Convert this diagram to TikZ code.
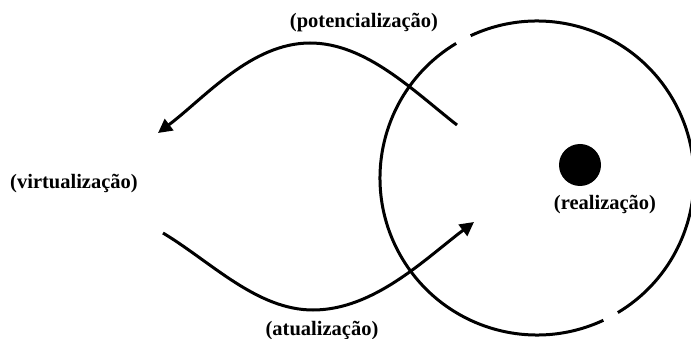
\documentclass[tikz,border=0pt]{standalone}
\usepackage{fontspec}
\setmainfont{Liberation Serif}
\usetikzlibrary{arrows.meta}
\begin{document}
\begin{tikzpicture}[x=1pt,y=1pt,
  lbl/.style={font=\fontsize{20.5}{21}\selectfont\bfseries, inner sep=0pt, text=black},
  ln/.style={line width=3pt, black},
  arr/.style={ln, -{Triangle[length=14pt,width=14pt]}}]
\useasboundingbox (0,0) rectangle (691,-339);
% circle with two gaps
\coordinate (c) at (537,-178);
\draw[ln] ([shift={(121:157)}]c) arc[start angle=121, end angle=295, radius=157];
\draw[ln] ([shift={(-59:157)}]c) arc[start angle=-59, end angle=115, radius=157];
% dot
\fill[black] (580,-165) circle[radius=21];
% labels
\node[lbl] (pot) at (364,-23) {(potencialização)};
\node[lbl] (vir) at (74,-184) {(virtualização)};
\node[lbl] (atu) at (322,-331) {(atualização)};
\node[lbl] (rea) at (605,-205) {(realização)};
% curves
\coordinate (us) at (457,-125);
\coordinate (up) at (310,-43);
\coordinate (ue) at (158,-133);
\draw[arr] (us) to[out=142,in=0,looseness=0.85] (up) to[out=180,in=37,looseness=0.85] (ue);
\coordinate (ls) at (163,-233);
\coordinate (lm) at (313,-310);
\coordinate (le) at (474,-222);
\draw[arr] (ls) to[out=-31,in=180,looseness=0.85] (lm) to[out=0,in=217,looseness=0.85] (le);
\end{tikzpicture}
\end{document}
